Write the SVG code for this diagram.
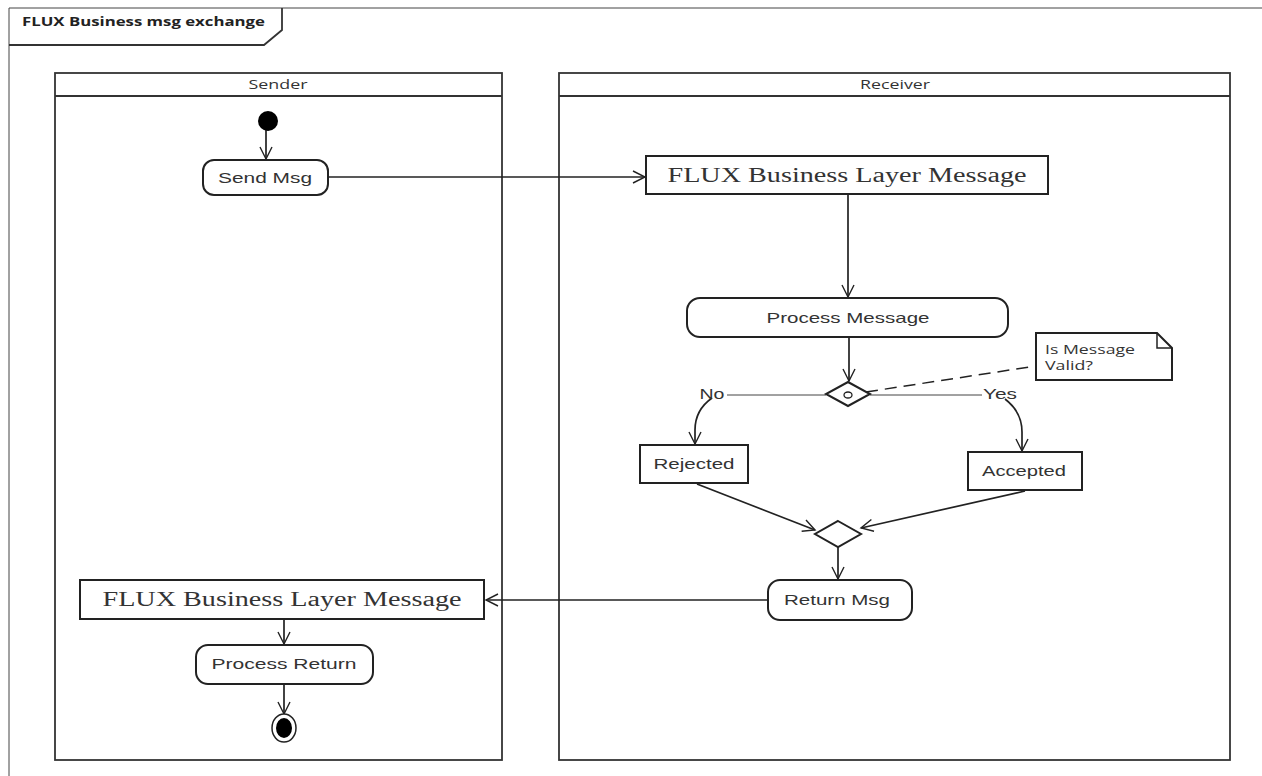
<svg xmlns="http://www.w3.org/2000/svg" width="1262" height="776" viewBox="0 0 1262 776">
<defs>
<marker id="arr" markerWidth="16" markerHeight="16" refX="14" refY="8" orient="auto" markerUnits="userSpaceOnUse">
<path d="M2,2 L14,8 L2,14" fill="none" stroke="#222" stroke-width="1.4"/>
</marker>
<style>
.box{fill:#fff;stroke:#222;stroke-width:2}
.lane{fill:#fff;stroke:#333;stroke-width:1.8}
.ln{fill:none;stroke:#222;stroke-width:1.7}
.thin{fill:none;stroke:#444;stroke-width:1}
.sans{font-family:"Liberation Sans",Arial,sans-serif;font-size:15px;fill:#333;text-anchor:middle}
.serif{font-family:"Liberation Serif","Times New Roman",serif;font-size:20px;fill:#333;text-anchor:middle}
.cal{font-family:"Open Sans","Liberation Sans",sans-serif;font-size:12.5px;fill:#333;text-anchor:middle}
</style>
</defs>
<rect width="1262" height="776" fill="#fff"/>
<g id="frame">
<path d="M9,776 L9,8 L1262,8" class="thin" stroke="#555"/>
<path d="M9,45 L264,45 L282,30 L282,8" fill="none" stroke="#333" stroke-width="1.8"/>
<text x="22" y="26" font-family="Open Sans, Liberation Sans, sans-serif" font-size="12.5" font-weight="bold" fill="#222" textLength="243" lengthAdjust="spacingAndGlyphs">FLUX Business msg exchange</text>
</g>
<g id="lane-sender">
<rect x="55" y="73" width="447" height="687" class="lane"/>
<line x1="55" y1="96" x2="502" y2="96" stroke="#333" stroke-width="1.8"/>
<text x="278" y="89" class="cal" textLength="59" lengthAdjust="spacingAndGlyphs">Sender</text>
</g>
<g id="lane-receiver">
<rect x="559" y="73" width="671" height="687" class="lane"/>
<line x1="559" y1="96" x2="1230" y2="96" stroke="#333" stroke-width="1.8"/>
<text x="895" y="89" class="cal" textLength="70" lengthAdjust="spacingAndGlyphs">Receiver</text>
</g>
<g id="connectors">
<line x1="266" y1="130" x2="266" y2="159" class="ln" marker-end="url(#arr)"/>
<line x1="328" y1="177" x2="645" y2="177" class="ln" marker-end="url(#arr)"/>
<line x1="848" y1="194" x2="848" y2="297" class="ln" marker-end="url(#arr)"/>
<line x1="849" y1="337" x2="849" y2="381" class="ln" marker-end="url(#arr)"/>
<line x1="727" y1="395" x2="826" y2="395" class="thin" stroke="#666"/>
<line x1="870" y1="395" x2="982" y2="395" class="thin" stroke="#666"/>
<path d="M712,398 Q695,410 695,430 L695,444" class="ln" marker-end="url(#arr)"/>
<path d="M1005,399 Q1022,412 1022,432 L1022,451" class="ln" marker-end="url(#arr)"/>
<line x1="866" y1="392" x2="1036" y2="366" stroke="#222" stroke-width="1.5" stroke-dasharray="12,7"/>
<line x1="697" y1="484" x2="815" y2="530" class="ln" marker-end="url(#arr)"/>
<line x1="1025" y1="491" x2="861" y2="528" class="ln" marker-end="url(#arr)"/>
<line x1="838" y1="547" x2="838" y2="579" class="ln" marker-end="url(#arr)"/>
<line x1="768" y1="600" x2="486" y2="600" class="ln" marker-end="url(#arr)"/>
<line x1="284" y1="619" x2="284" y2="644" class="ln" marker-end="url(#arr)"/>
<line x1="284" y1="684" x2="284" y2="714" class="ln" marker-end="url(#arr)"/>
</g>
<g id="initial">
<circle cx="268" cy="121" r="10" fill="#000"/>
</g>
<g id="send-msg">
<rect x="203" y="160" width="125" height="35" rx="11" class="box"/>
<text x="265" y="183" class="sans" textLength="94" lengthAdjust="spacingAndGlyphs">Send Msg</text>
</g>
<g id="flux-receiver">
<rect x="646" y="156" width="402" height="38" class="box"/>
<text x="847" y="182" class="serif" textLength="359" lengthAdjust="spacingAndGlyphs">FLUX Business Layer Message</text>
</g>
<g id="process-message">
<rect x="687" y="298" width="321" height="39" rx="13" class="box"/>
<text x="848" y="323" class="sans" textLength="163" lengthAdjust="spacingAndGlyphs">Process Message</text>
</g>
<g id="decision">
<path d="M848,382 L870,394 L848,406 L826,394 Z" class="box" stroke-width="1.5"/>
<ellipse cx="848" cy="395" rx="4" ry="3" fill="none" stroke="#222" stroke-width="1.3"/>
</g>
<g id="note">
<path d="M1036,333 L1157,333 L1172,348 L1172,380 L1036,380 Z" class="box" stroke-width="1.5"/>
<path d="M1157,333 L1157,348 L1172,348" fill="none" stroke="#222" stroke-width="1.5"/>
<text x="1045" y="354" font-family="Open Sans, Liberation Sans, sans-serif" font-size="13" fill="#333" textLength="90" lengthAdjust="spacingAndGlyphs">Is Message</text>
<text x="1045" y="370" font-family="Open Sans, Liberation Sans, sans-serif" font-size="13" fill="#333" textLength="48" lengthAdjust="spacingAndGlyphs">Valid?</text>
</g>
<g id="labels">
<text x="712" y="399" class="sans" font-size="13" textLength="25" lengthAdjust="spacingAndGlyphs">No</text>
<text x="1000" y="399" class="sans" font-size="13" textLength="34" lengthAdjust="spacingAndGlyphs">Yes</text>
</g>
<g id="rejected">
<rect x="640" y="445" width="108" height="38" class="box"/>
<text x="694" y="469" class="sans" textLength="81" lengthAdjust="spacingAndGlyphs">Rejected</text>
</g>
<g id="accepted">
<rect x="968" y="452" width="114" height="38" class="box"/>
<text x="1024" y="476" class="sans" textLength="84" lengthAdjust="spacingAndGlyphs">Accepted</text>
</g>
<g id="merge">
<path d="M838,521 L861,534 L838,547 L815,534 Z" class="box" stroke-width="1.5"/>
</g>
<g id="return-msg">
<rect x="768" y="580" width="144" height="40" rx="12" class="box"/>
<text x="837" y="605" class="sans" textLength="106" lengthAdjust="spacingAndGlyphs">Return Msg</text>
</g>
<g id="flux-sender">
<rect x="80" y="580" width="404" height="39" class="box"/>
<text x="282" y="606" class="serif" textLength="359" lengthAdjust="spacingAndGlyphs">FLUX Business Layer Message</text>
</g>
<g id="process-return">
<rect x="196" y="645" width="177" height="39" rx="12" class="box"/>
<text x="284" y="669" class="sans" textLength="145" lengthAdjust="spacingAndGlyphs">Process Return</text>
</g>
<g id="final">
<ellipse cx="284" cy="728" rx="12" ry="14" fill="#fff" stroke="#222" stroke-width="1.5"/>
<ellipse cx="284" cy="728" rx="8" ry="10" fill="#000"/>
</g>
</svg>
